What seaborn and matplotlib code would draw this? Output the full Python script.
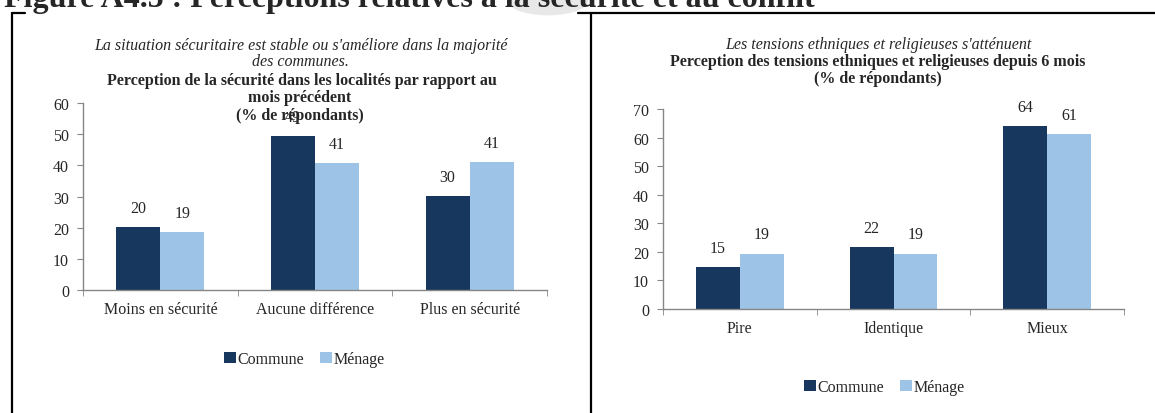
import pandas as pd
import numpy as np
import matplotlib
matplotlib.use("Agg")
import matplotlib.pyplot as plt
import seaborn as sns
from matplotlib.patches import Patch, Circle
from matplotlib.lines import Line2D

# data
series_names = ["Commune", "Ménage"]

left_categories = ["Moins en sécurité", "Aucune différence", "Plus en sécurité"]
left_commune = [20.1, 49.4, 30.2]
left_menage = [18.6, 40.6, 41.0]
left_yticks = [0, 10, 20, 30, 40, 50, 60]

right_categories = ["Pire", "Identique", "Mieux"]
right_commune = [14.6, 21.6, 64.1]
right_menage = [19.4, 19.4, 61.2]
right_yticks = [0, 10, 20, 30, 40, 50, 60, 70]

COLORS = {"Commune": "#17375E", "Ménage": "#9DC3E6"}
AXIS_GRAY = "#868686"
W, H = 1155, 414
FS = 11.5

sns.set_style("white")
plt.rcParams["font.family"] = ["Liberation Serif", "DejaVu Serif"]


def long_frame(categories, commune, menage):
    rows = []
    for cat, c, m in zip(categories, commune, menage):
        rows.append({"cat": cat, "serie": "Commune", "val": c})
        rows.append({"cat": cat, "serie": "Ménage", "val": m})
    return pd.DataFrame(rows)


def px(x, y):
    # pixel position -> figure fraction
    return x / W, 1 - y / H


def draw_panel(ax, df, categories, yticks):
    sns.barplot(data=df, x="cat", y="val", hue="serie", order=categories,
                hue_order=series_names, palette=COLORS, width=0.57, gap=0,
                saturation=1, ax=ax, legend=False, linewidth=0)
    for cont in ax.containers:
        ax.bar_label(cont, fmt="%.0f", padding=8, fontsize=FS)
    ax.set_xlim(-0.5, len(categories) - 0.5)
    ax.set_ylim(yticks[0], yticks[-1])
    ax.set_yticks(yticks)
    ax.set_xlabel("")
    ax.set_ylabel("")
    for s in ["top", "right"]:
        ax.spines[s].set_visible(False)
    for s in ["left", "bottom"]:
        ax.spines[s].set_color(AXIS_GRAY)
        ax.spines[s].set_linewidth(1.0)
    ax.tick_params(axis="y", direction="out", length=4, color=AXIS_GRAY,
                   labelsize=FS, pad=6, left=True)
    ax.tick_params(axis="x", which="major", length=0, labelsize=FS, pad=8)
    ax.set_xticks(np.arange(-0.5, len(categories)), minor=True)
    ax.tick_params(axis="x", which="minor", direction="out", length=4,
                   color=AXIS_GRAY, bottom=True)


def panel_legend(fig, cx, cy):
    handles = [Patch(facecolor=COLORS[n], edgecolor="none", label=n) for n in series_names]
    fig.legend(handles=handles, loc="center", bbox_to_anchor=(cx, cy), ncol=2,
               frameon=False, fontsize=FS, handlelength=0.75, handleheight=0.75,
               handletextpad=0.1, columnspacing=1.0, borderaxespad=0)


fig = plt.figure(figsize=(W / 100, H / 100), dpi=100)

# faint watermark fragment behind the title
fig.add_artist(Circle(px(548, 2), 40 / W, transform=fig.transFigure,
                      facecolor="#e8e8e8", edgecolor="none", zorder=0))

# left panel
ax1 = fig.add_axes([83 / W, 1 - 291 / H, (547 - 83) / W, (291 - 104) / H])
draw_panel(ax1, long_frame(left_categories, left_commune, left_menage),
           left_categories, left_yticks)

# right panel
ax2 = fig.add_axes([663 / W, 1 - 310 / H, (1124 - 663) / W, (310 - 110) / H])
draw_panel(ax2, long_frame(right_categories, right_commune, right_menage),
           right_categories, right_yticks)
for ax in (ax1, ax2):
    ax.patch.set_alpha(0)

# panel headings
fig.text(*px(301, 46), "La situation sécuritaire est stable ou s'améliore dans la majorité",
         ha="center", va="center", style="italic", fontsize=FS)
fig.text(*px(300, 62), "des communes.", ha="center", va="center", style="italic", fontsize=FS)
fig.text(*px(302, 81), "Perception de la sécurité dans les localités par rapport au",
         ha="center", va="center", weight="bold", fontsize=FS)
fig.text(*px(300, 98), "mois précédent", ha="center", va="center", weight="bold", fontsize=FS)
fig.text(*px(300, 116), "(% de répondants)", ha="center", va="center", weight="bold", fontsize=FS)

fig.text(*px(878, 45), "Les tensions ethniques et religieuses s'atténuent",
         ha="center", va="center", style="italic", fontsize=FS)
fig.text(*px(878, 62), "Perception des tensions ethniques et religieuses depuis 6 mois",
         ha="center", va="center", weight="bold", fontsize=FS)
fig.text(*px(878, 79), "(% de répondants)", ha="center", va="center", weight="bold", fontsize=FS)

panel_legend(fig, *px(304, 360))
panel_legend(fig, *px(884, 388))

# figure title, clipped at the top like the scan
fig.text(*px(4, 7), "Figure A4.5 : Perceptions relatives à la sécurité et au conflit",
         ha="left", va="baseline", weight="bold", fontsize=23)

# table cell borders
for xs, ys in [([12, 12], [14, H]), ([591, 591], [14, H]),
               ([12, 25], [14, 14]), ([578, W], [14, 14])]:
    fig.add_artist(Line2D([x / W for x in xs], [1 - y / H for y in ys],
                          color="black", linewidth=1.6, transform=fig.transFigure))

fig.savefig("out.png", dpi=100)
